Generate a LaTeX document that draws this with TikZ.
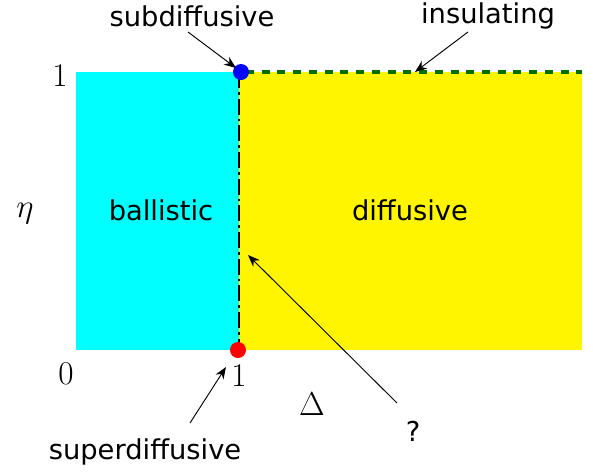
\documentclass[tikz,border=0pt]{standalone}
\usepackage{fontspec}
\setsansfont{DejaVu Sans}
\usetikzlibrary{arrows.meta}
\definecolor{phasecyan}{RGB}{0,255,255}
\definecolor{phaseyellow}{RGB}{255,245,0}
\definecolor{edgegreen}{RGB}{0,110,0}

\begin{document}
\begin{tikzpicture}[
    x=0.75pt, y=-0.75pt,
    >={Stealth[length=9pt,width=7pt]},
    phase/.style={font=\sffamily\fontsize{20.5}{24}\selectfont},
    axislabel/.style={font=\fontsize{30}{34}\selectfont},
    pointer/.style={->, line width=0.7pt, black}
]

\useasboundingbox (0,0) rectangle (593,472);

% Regions

\fill[phasecyan] (76,72) rectangle (239,350);
\fill[phaseyellow] (239,72) rectangle (582,350);


% Boundaries

\draw[
    line width=3pt,
    edgegreen,
    dash pattern=on 6pt off 5.8pt
] (246,72) -- (582,72);

\draw[
    line width=1.5pt,
    black,
    dash pattern=on 12pt off 3pt on 2pt off 3pt
] (239,72) -- (239,350);


% Points

\fill[blue] (241,72) circle (6pt);
\fill[red] (238,350) circle (6pt);


% Labels

\node[phase] (ball) at (161,210) {ballistic};
\node[phase] (diff) at (410,210) {diffusive};
\node[phase] (sub) at (192,16) {subdiffusive};
\node[phase] (ins) at (488,16) {insulating};
\node[phase] (sup) at (145,452) {superdiffusive};
\node[phase] (unk) at (413,431) {?};

\node[axislabel] (etaone) at (60,76) {$1$};
\node[axislabel] (etazero) at (66,374) {$0$};
\node[axislabel] (deltaone) at (239,376) {$1$};
\node[axislabel] (eta) at (25,214) {$\eta$};
\node[axislabel] (delta) at (312,404) {$\Delta$};


% Arrows

\coordinate (subtail) at (188,32);
\coordinate (subhead) at (236,68);
\coordinate (instail) at (468,32);
\coordinate (inshead) at (415,72);
\coordinate (suptail) at (190,423);
\coordinate (suphead) at (226,367);
\coordinate (unktail) at (397,403);
\coordinate (unkhead) at (248,255);

\draw[pointer] (subtail) -- (subhead);
\draw[pointer] (instail) -- (inshead);
\draw[pointer] (suptail) -- (suphead);
\draw[pointer] (unktail) -- (unkhead);

\end{tikzpicture}
\end{document}
